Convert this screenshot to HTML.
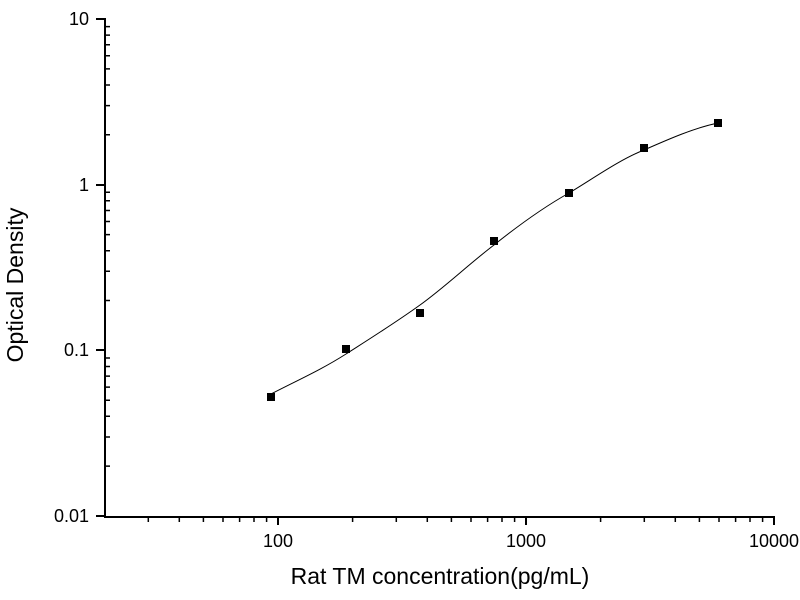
<!DOCTYPE html>
<html><head><meta charset="utf-8"><style>
html,body{margin:0;padding:0;background:#fff;}
svg{display:block;font-family:"Liberation Sans",Arial,sans-serif;}
</style></head><body>
<svg width="800" height="600" viewBox="0 0 800 600" xmlns="http://www.w3.org/2000/svg">
<rect width="800" height="600" fill="#fff"/>
<g stroke="#000" stroke-width="2" fill="none">
<path d="M105,18 V517 H775"/>
<path d="M96,19H105M96,185H105M96,350H105M96,516H105"/>
<path d="M278,516V525M526,516V525M774,516V525"/>
</g>
<g stroke="#000" stroke-width="1.5" fill="none">
<path d="M105,134.8h5M105,105.6h5M105,85h5M105,68.9h5M105,55.8h5M105,44.8h5M105,35.1h5M105,26.6h5
M105,300.5h5M105,271.3h5M105,250.7h5M105,234.6h5M105,221.5h5M105,210.5h5M105,200.8h5M105,192.3h5
M105,466.1h5M105,437h5M105,416.3h5M105,400.2h5M105,387.1h5M105,376.1h5M105,366.5h5M105,358h5"/>
<path d="M148.3,516v6M179.3,516v6M203.4,516v6M223,516v6M239.6,516v6M254,516v6M266.6,516v6
M352.6,516v6M396.3,516v6M427.3,516v6M451.4,516v6M471,516v6M487.6,516v6M502,516v6M514.6,516v6
M600.6,516v6M644.3,516v6M675.3,516v6M699.4,516v6M719,516v6M735.6,516v6M750,516v6M762.6,516v6"/>
</g>
<path d="M271,394 C296,381 321,370 346,354 C371,338 395,323 420,305 C445,287 469,264 494,245 C519,225 544,207 569,193 C594,178 619,160 644,150 C669,139 694,128 718,123" stroke="#000" stroke-width="1" fill="none"/>
<g fill="#000">
<rect x="267" y="393" width="8" height="8"/>
<rect x="342" y="345" width="8" height="8"/>
<rect x="416" y="309" width="8" height="8"/>
<rect x="490" y="237" width="8" height="8"/>
<rect x="565" y="189" width="8" height="8"/>
<rect x="640" y="144" width="8" height="8"/>
<rect x="714" y="119" width="8" height="8"/>
</g>
<g font-size="18" fill="#000" text-anchor="end">
<text x="89" y="25">10</text>
<text x="89" y="191">1</text>
<text x="89" y="356">0.1</text>
<text x="89" y="522">0.01</text>
</g>
<g font-size="18" fill="#000" text-anchor="middle">
<text x="278" y="547">100</text>
<text x="526" y="547">1000</text>
<text x="774" y="547">10000</text>
</g>
<text x="440" y="584" font-size="23" text-anchor="middle">Rat TM concentration(pg/mL)</text>
<text transform="translate(23,285) rotate(-90)" font-size="23" text-anchor="middle">Optical Density</text>
</svg>
</body></html>
